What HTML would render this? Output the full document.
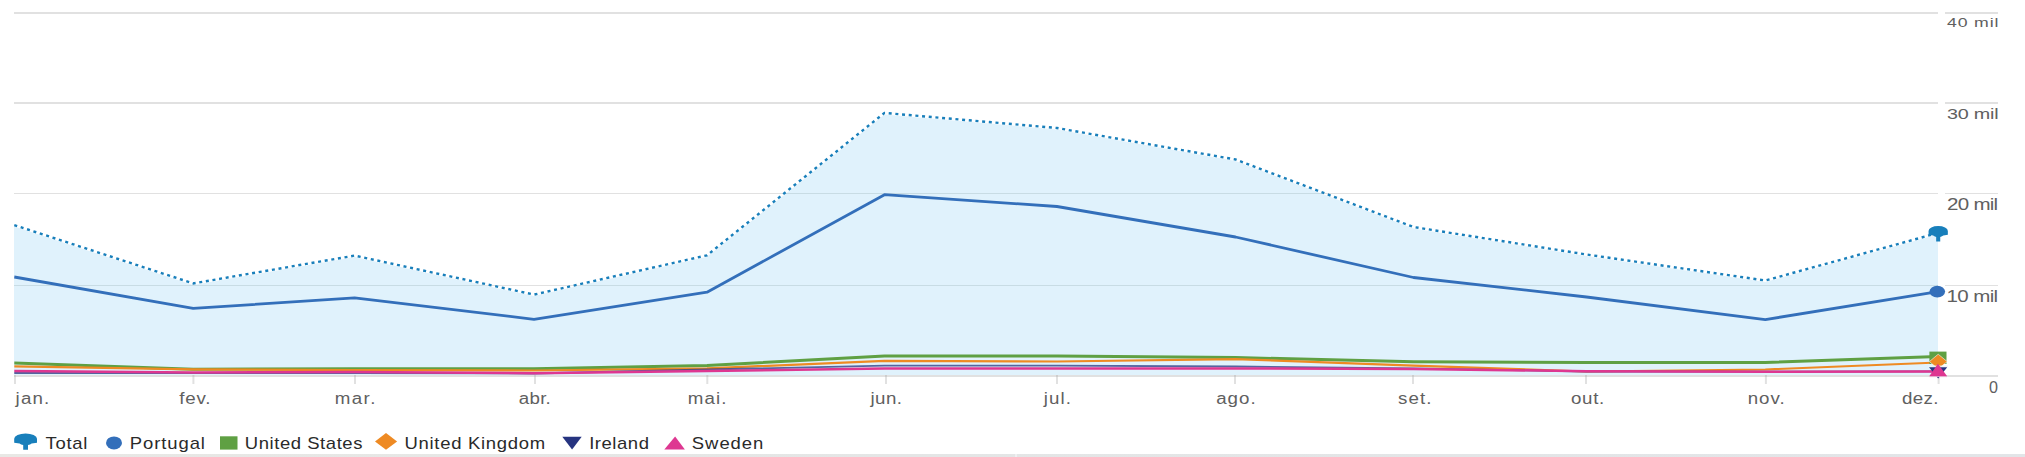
<!DOCTYPE html>
<html><head><meta charset="utf-8"><style>
html,body{margin:0;padding:0;background:#fff;width:2025px;height:457px;overflow:hidden}
svg{display:block}
text{font-family:"Liberation Sans",sans-serif}
</style></head><body>
<svg width="2025" height="457" viewBox="0 0 2025 457">
<rect x="14" y="12.0" width="1924" height="2" fill="#e1e1e1"/>
<rect x="1945" y="12.0" width="53" height="2" fill="#e1e1e1"/>
<rect x="14" y="102.0" width="1924" height="2" fill="#e1e1e1"/>
<rect x="1945" y="102.0" width="53" height="2" fill="#e1e1e1"/>
<rect x="14" y="193.0" width="1924" height="1" fill="#e1e1e1"/>
<rect x="1945" y="193.0" width="53" height="1" fill="#e1e1e1"/>
<rect x="14" y="285.0" width="1924" height="1" fill="#e1e1e1"/>
<rect x="1945" y="285.0" width="53" height="1" fill="#e1e1e1"/>
<defs><clipPath id="fc"><polygon points="14,375.5 14,226.6 14.3,226.6 193.2,284.9 354.6,257.1 534.0,296.1 707.0,256.8 884.5,114.4 1057.0,129.5 1235.5,161.0 1413.5,228.5 1586.5,256.0 1765.3,282.0 1938.0,234.5 1938.0,375.5"/></clipPath></defs>
<polygon points="14,375.5 14,226.6 14.3,226.6 193.2,284.9 354.6,257.1 534.0,296.1 707.0,256.8 884.5,114.4 1057.0,129.5 1235.5,161.0 1413.5,228.5 1586.5,256.0 1765.3,282.0 1938.0,234.5 1938.0,375.5" fill="#e0f2fc"/>
<g clip-path="url(#fc)">
<rect x="14" y="12.0" width="1924" height="2" fill="#c8dce4"/>
<rect x="14" y="102.0" width="1924" height="2" fill="#c8dce4"/>
<rect x="14" y="193.0" width="1924" height="1" fill="#c8dce4"/>
<rect x="14" y="285.0" width="1924" height="1" fill="#c8dce4"/>
</g>
<rect x="14" y="375" width="1984" height="2" fill="#e1e1e1"/>
<rect x="14.0" y="377" width="2" height="7" fill="#e1e1e1"/>
<rect x="14.0" y="375" width="2" height="2" fill="#cdcdcd"/>
<rect x="192.4" y="377" width="2" height="7" fill="#e1e1e1"/>
<rect x="192.4" y="375" width="2" height="2" fill="#cdcdcd"/>
<rect x="354.0" y="377" width="2" height="7" fill="#e1e1e1"/>
<rect x="354.0" y="375" width="2" height="2" fill="#cdcdcd"/>
<rect x="534.0" y="377" width="2" height="7" fill="#e1e1e1"/>
<rect x="534.0" y="375" width="2" height="2" fill="#cdcdcd"/>
<rect x="706.3" y="377" width="2" height="7" fill="#e1e1e1"/>
<rect x="706.3" y="375" width="2" height="2" fill="#cdcdcd"/>
<rect x="885.0" y="377" width="2" height="7" fill="#e1e1e1"/>
<rect x="885.0" y="375" width="2" height="2" fill="#cdcdcd"/>
<rect x="1056.0" y="377" width="2" height="7" fill="#e1e1e1"/>
<rect x="1056.0" y="375" width="2" height="2" fill="#cdcdcd"/>
<rect x="1234.0" y="377" width="2" height="7" fill="#e1e1e1"/>
<rect x="1234.0" y="375" width="2" height="2" fill="#cdcdcd"/>
<rect x="1412.0" y="377" width="2" height="7" fill="#e1e1e1"/>
<rect x="1412.0" y="375" width="2" height="2" fill="#cdcdcd"/>
<rect x="1585.0" y="377" width="2" height="7" fill="#e1e1e1"/>
<rect x="1585.0" y="375" width="2" height="2" fill="#cdcdcd"/>
<rect x="1764.9" y="377" width="2" height="7" fill="#e1e1e1"/>
<rect x="1764.9" y="375" width="2" height="2" fill="#cdcdcd"/>
<rect x="1937.6" y="377" width="2" height="7" fill="#e1e1e1"/>
<rect x="1937.6" y="375" width="2" height="2" fill="#cdcdcd"/>
<polyline points="14.3,225.1 193.2,283.4 354.6,255.6 534.0,294.6 707.0,255.3 884.5,112.9 1057.0,128.0 1235.5,159.5 1413.5,227.0 1586.5,254.5 1765.3,280.5 1938.0,233.0" fill="none" stroke="#187fbb" stroke-width="2.4" stroke-dasharray="3 3.7" />
<polyline points="14.3,277.0 193.2,308.4 354.6,297.9 534.0,319.3 707.0,292.2 884.5,194.7 1057.0,206.5 1235.5,237.0 1413.5,277.5 1586.5,297.0 1765.3,319.6 1938.0,291.6" fill="none" stroke="#336fba" stroke-width="2.8" stroke-linejoin="round"/>
<polyline points="14.3,363.0 193.2,369.2 354.6,368.8 534.0,368.8 707.0,365.6 884.5,355.9 1057.0,355.9 1235.5,357.5 1413.5,361.8 1586.5,362.4 1765.3,362.4 1938.0,356.5" fill="none" stroke="#5fa043" stroke-width="3" stroke-linejoin="round"/>
<polyline points="14.3,366.3 193.2,369.4 354.6,370.2 534.0,370.5 707.0,368.4 884.5,360.8 1057.0,361.5 1235.5,359.1 1413.5,365.7 1586.5,371.5 1765.3,369.5 1938.0,362.5" fill="none" stroke="#ee8a23" stroke-width="2.2" stroke-linejoin="round"/>
<polyline points="14.3,373.0 193.2,373.2 354.6,373.2 534.0,373.5 707.0,369.5 884.5,365.6 1057.0,365.6 1235.5,366.5 1413.5,368.4 1586.5,371.5 1765.3,371.6 1938.0,371.4" fill="none" stroke="#263480" stroke-width="1.8" stroke-opacity="0.75" stroke-linejoin="round"/>
<polyline points="14.3,371.0 193.2,372.4 354.6,372.1 534.0,373.2 707.0,371.0 884.5,368.4 1057.0,368.5 1235.5,368.5 1413.5,368.9 1586.5,371.2 1765.3,371.7 1938.0,371.4" fill="none" stroke="#de3791" stroke-width="2.5" stroke-linejoin="round"/>
<path d="M -11.4,5.2 A 11.4,5.2 0 0 1 11.4,5.2 L 11.4,9.1 L 6,9.9 L 4.5,10.9 L 2.4,11.5 L 2.4,16.2 L -2.4,16.2 L -2.4,11.5 L -4.5,10.9 L -6,9.9 L -11.4,9.1 Z" fill="#187fbb" transform="translate(1938.20 226.00) scale(0.846 0.951)"/>
<ellipse cx="1937.3" cy="291.6" rx="7.8" ry="5.9" fill="#336fba"/>
<rect x="1929.4" y="351.6" width="17.1" height="12.4" fill="#5fa043"/>
<polygon points="1929.4,361.6 1938.2,354.2 1947.2,361.6 1938.2,369" fill="#ee8a23" stroke="#fff" stroke-opacity="0.55" stroke-width="1"/>
<rect x="1928" y="365.6" width="20" height="1.2" fill="#eef3f8"/>
<polygon points="1929,367.3 1947.2,367.3 1938.2,378.6" fill="#263480"/>
<polygon points="1937.9,363.8 1947,376.1 1929.4,376.1" fill="#de3791"/>
<rect x="1929.4" y="376.1" width="17.6" height="1" fill="#e9a6cb"/>
<text x="0" y="0" font-size="15.6" fill="#606060" letter-spacing="0.972" transform="translate(15.60 403.70) scale(1.2000 1)">jan.</text>
<text x="0" y="0" font-size="15.6" fill="#606060" letter-spacing="0.694" transform="translate(179.30 403.70) scale(1.2000 1)">fev.</text>
<text x="0" y="0" font-size="15.6" fill="#606060" letter-spacing="1.167" transform="translate(334.80 403.70) scale(1.2000 1)">mar.</text>
<text x="0" y="0" font-size="15.6" fill="#606060" letter-spacing="0.222" transform="translate(518.80 403.70) scale(1.2000 1)">abr.</text>
<text x="0" y="0" font-size="15.6" fill="#606060" letter-spacing="0.944" transform="translate(687.80 403.70) scale(1.2000 1)">mai.</text>
<text x="0" y="0" font-size="15.6" fill="#606060" letter-spacing="0.417" transform="translate(870.40 403.70) scale(1.2000 1)">jun.</text>
<text x="0" y="0" font-size="15.6" fill="#606060" letter-spacing="0.917" transform="translate(1043.80 403.70) scale(1.2000 1)">jul.</text>
<text x="0" y="0" font-size="15.6" fill="#606060" letter-spacing="0.833" transform="translate(1216.20 403.70) scale(1.2000 1)">ago.</text>
<text x="0" y="0" font-size="15.6" fill="#606060" letter-spacing="0.944" transform="translate(1398.00 403.70) scale(1.2000 1)">set.</text>
<text x="0" y="0" font-size="15.6" fill="#606060" letter-spacing="0.611" transform="translate(1570.90 403.70) scale(1.2000 1)">out.</text>
<text x="0" y="0" font-size="15.6" fill="#606060" letter-spacing="0.833" transform="translate(1747.70 403.70) scale(1.2000 1)">nov.</text>
<text x="0" y="0" font-size="15.6" fill="#606060" letter-spacing="0.278" transform="translate(1902.10 403.70) scale(1.2000 1)">dez.</text>
<text x="0" y="0" font-size="13.6" fill="#606060" letter-spacing="0.646" transform="translate(1947.00 26.60) scale(1.3000 1)">40 mil</text>
<text x="0" y="0" font-size="15.2" fill="#606060" letter-spacing="-0.154" transform="translate(1947.00 118.50) scale(1.3000 1)">30 mil</text>
<text x="0" y="0" font-size="15.8" fill="#606060" letter-spacing="-0.554" transform="translate(1947.00 209.70) scale(1.3000 1)">20 mil</text>
<text x="0" y="0" font-size="15.8" fill="#606060" letter-spacing="-0.477" transform="translate(1946.50 301.70) scale(1.3000 1)">10 mil</text>
<text x="0" y="0" font-size="15.8" fill="#606060" letter-spacing="0.000" transform="translate(1989.00 392.50) scale(1.0222 1)">0</text>
<text x="0" y="0" font-size="15.8" fill="#2a2a2a" letter-spacing="0.618" transform="translate(45.50 448.80) scale(1.1700 1)">Total</text>
<text x="0" y="0" font-size="15.8" fill="#2a2a2a" letter-spacing="0.770" transform="translate(129.83 448.80) scale(1.1700 1)">Portugal</text>
<text x="0" y="0" font-size="15.8" fill="#2a2a2a" letter-spacing="0.472" transform="translate(244.83 448.80) scale(1.1700 1)">United States</text>
<text x="0" y="0" font-size="15.8" fill="#2a2a2a" letter-spacing="0.613" transform="translate(404.43 448.80) scale(1.1700 1)">United Kingdom</text>
<text x="0" y="0" font-size="15.8" fill="#2a2a2a" letter-spacing="0.472" transform="translate(589.13 448.80) scale(1.1700 1)">Ireland</text>
<text x="0" y="0" font-size="15.8" fill="#2a2a2a" letter-spacing="0.812" transform="translate(691.83 448.80) scale(1.1700 1)">Sweden</text>
<path d="M -11.4,5.2 A 11.4,5.2 0 0 1 11.4,5.2 L 11.4,9.1 L 6,9.9 L 4.5,10.9 L 2.4,11.5 L 2.4,16.2 L -2.4,16.2 L -2.4,11.5 L -4.5,10.9 L -6,9.9 L -11.4,9.1 Z" fill="#187fbb" transform="translate(25.60 433.60) scale(1.000 1.000)"/>
<ellipse cx="114" cy="442.9" rx="8" ry="6.5" fill="#336fba"/>
<rect x="220" y="436.3" width="17.5" height="13.3" fill="#5fa043"/>
<polygon points="375,441.4 386,432.9 397.1,441.4 386,449.8" fill="#ee8a23"/>
<polygon points="562.3,436.8 581.7,436.8 572.1,449.4" fill="#263480"/>
<polygon points="675.1,436.5 684.9,449.4 664.3,449.4" fill="#de3791"/>
<defs><linearGradient id="bs" x1="0" x2="1" y1="0" y2="0"><stop offset="0" stop-color="#e8e8e5"/><stop offset="0.45" stop-color="#e4e6e6"/><stop offset="1" stop-color="#e2e5e8"/></linearGradient></defs>
<rect x="0" y="454" width="2025" height="3" fill="url(#bs)"/>
<rect x="1015" y="454" width="2" height="3" fill="#eff0f2"/>
</svg>
</body></html>
